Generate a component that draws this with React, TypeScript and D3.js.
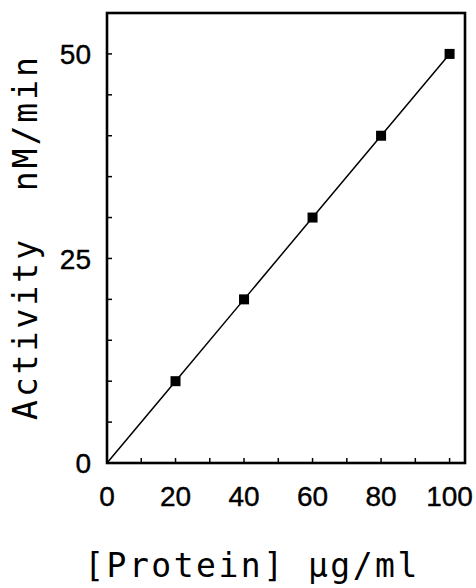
import React from 'react';
import * as d3 from 'd3';

// protein concentration (ug/ml) and activity (nM/min)
const protein = [0, 20, 40, 60, 80, 100];
const activity = [0, 10, 20, 30, 40, 50];
const xTickLabels = [0, 20, 40, 60, 80, 100];
const yTickLabels = [0, 25, 50];
const xMinorTicks = d3.range(0, 101, 10);
const yMinorTicks = d3.range(0, 51, 5);

const W = 476;
const H = 588;
const box = { left: 107, right: 465, top: 13, bottom: 463 };

const mono = '"DejaVu Sans Mono", monospace';
const sans = '"Liberation Sans", Arial, sans-serif';

export default function App() {
  const x = d3.scaleLinear().domain([0, 104.5]).range([box.left, box.right]);
  const y = d3.scaleLinear().domain([0, 55]).range([box.bottom, box.top]);

  const pts = protein.map((p, i) => [p, activity[i]] as [number, number]);
  const line = d3.line<[number, number]>()
    .x(d => x(d[0]))
    .y(d => y(d[1]));

  const ms = 10; // marker size

  return (
    <div style={{ position: 'absolute', left: 0, top: 0 }}>
      <svg width={W} height={H} style={{ display: 'block', background: '#fff' }}>
        {/* fit line */}
        <path d={line(pts) || ''} fill="none" stroke="#000" strokeWidth={1.5} />

        {/* markers, origin has none */}
        {pts.filter(d => d[0] > 0).map(d => (
          <rect key={d[0]} x={x(d[0]) - ms / 2} y={y(d[1]) - ms / 2} width={ms} height={ms} fill="#000" />
        ))}

        {/* inward ticks */}
        {xMinorTicks.map(t => (
          <line key={'xt' + t} x1={x(t)} x2={x(t)} y1={box.bottom} y2={box.bottom - 5} stroke="#000" strokeWidth={1.5} />
        ))}
        {yMinorTicks.map(t => (
          <line key={'yt' + t} x1={box.left} x2={box.left + 5} y1={y(t)} y2={y(t)} stroke="#000" strokeWidth={1.5} />
        ))}

        {/* frame */}
        <rect x={box.left} y={box.top} width={box.right - box.left} height={box.bottom - box.top}
          fill="none" stroke="#000" strokeWidth={2.6} />

        {/* tick labels */}
        {xTickLabels.map(t => (
          <text key={'xl' + t} x={x(t)} y={506} textAnchor="middle" fontFamily={sans} fontSize={28}
            fill="#000" stroke="#000" strokeWidth={0.4}>
            {t}
          </text>
        ))}
        {yTickLabels.map(t => (
          <text key={'yl' + t} x={91} y={y(t)} dy="0.36em" textAnchor="end" fontFamily={sans} fontSize={28}
            fill="#000" stroke="#000" strokeWidth={0.4}>
            {t}
          </text>
        ))}

        {/* axis titles */}
        <text x={252} y={577} textAnchor="middle" fontFamily={mono} fontSize={33} letterSpacing={2.5} fill="#000">
          [Protein] μg/ml
        </text>
        <text transform="translate(37,237) rotate(-90)" textAnchor="middle" fontFamily={mono} fontSize={33}
          letterSpacing={3} fill="#000" style={{ whiteSpace: 'pre' }}>
          {'Activity  nM/min'}
        </text>
      </svg>
    </div>
  );
}
